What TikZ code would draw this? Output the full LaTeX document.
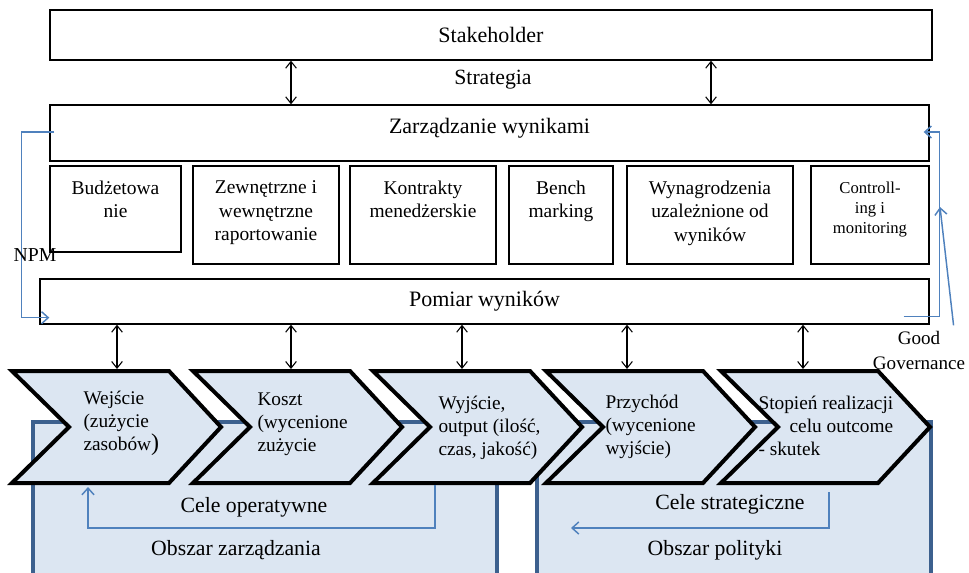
\documentclass[tikz,border=0pt]{standalone}
\usepackage{fontspec}
\setmainfont{Liberation Serif}
\usetikzlibrary{arrows.meta,calc}

\definecolor{govblue}{RGB}{79,129,189}
\definecolor{areablue}{RGB}{60,96,142}
\definecolor{areafill}{RGB}{220,230,242}

\tikzset{every picture/.style={line width=0.75pt}}
\tikzset{
  bigbox/.style={draw, line width=1pt, inner sep=0pt, font=\fontsize{16.5}{19}\selectfont},
  subbox/.style={draw, line width=1pt, inner sep=0pt},
  boxtext/.style={anchor=north, inner sep=0pt, align=center, font=\fontsize{14.6}{17.5}\selectfont},
  chevtext/.style={anchor=north west, inner sep=0pt, align=left, font=\fontsize{14.5}{17.25}\selectfont},
  areatext/.style={inner sep=0pt, font=\fontsize{16.3}{19}\selectfont},
  sidetext/.style={inner sep=0pt, align=center, font=\fontsize{14.8}{18.75}\selectfont},
  chevron/.style={draw=black, line width=3pt, fill=areafill},
  area/.style={draw=areablue, line width=2.5pt, fill=areafill},
  dbl/.style={{Straight Barb[length=5pt,width=8pt]}-{Straight Barb[length=5pt,width=8pt]}, line width=0.8pt},
  govline/.style={draw=govblue, line width=1.1pt, -{Straight Barb[length=5pt,width=9pt]}},
}

\begin{document}
\begin{tikzpicture}[x=0.75pt,y=0.75pt,yscale=-1,xscale=1]
\useasboundingbox (0,0) rectangle (969,572);

%Shape: areas behind the chevrons
\draw[area] (33,580) -- (33,422) -- (497,422) -- (497,580);
\draw[area] (537,580) -- (537,422) -- (931,422) -- (931,580);

%Shape: chevrons
\foreach \x in {12,193,373,546,721}
  \draw[chevron] (\x,371) -- ++(157,0) -- ++(52,56) -- ++(-52,56) -- ++(-157,0) -- ++(57,-56) -- cycle;

% Text Node
\node[bigbox, minimum width=661.5pt, minimum height=37.5pt] (stake) at (491,35) {Stakeholder};
\node[bigbox, minimum width=659.25pt, minimum height=42pt, text height=11pt, text depth=11pt] (zarz) at (489.5,133) {Zarządzanie wynikami};
\node[bigbox, minimum width=666.75pt, minimum height=33.75pt] (pomiar) at (484.5,301.5) {Pomiar wyników};
\node[areatext] (strat) at (493,80) {Strategia};

%Shape: Rectangle (tools)
\node[subbox, minimum width=98.25pt, minimum height=64.5pt] (b1) at (115.5,209) {};
\node[subbox, minimum width=109.5pt, minimum height=73.5pt] (b2) at (266,215) {};
\node[subbox, minimum width=109.5pt, minimum height=73.5pt] (b3) at (423,215) {};
\node[subbox, minimum width=78pt, minimum height=73.5pt] (b4) at (561,215) {};
\node[subbox, minimum width=124.5pt, minimum height=73.5pt] (b5) at (710,215) {};
\node[subbox, minimum width=88.5pt, minimum height=73.5pt] (b6) at (870,215) {};

% Text Node
\node[boxtext] (t1) at ($(b1.north)+(0,15)$) {Budżetowa\\nie};
\node[boxtext] (t2) at ($(b2.north)+(0,15)$) {Zewnętrzne i\\wewnętrzne\\raportowanie};
\node[boxtext] (t3) at ($(b3.north)+(0,15)$) {Kontrakty\\menedżerskie};
\node[boxtext] (t4) at ($(b4.north)+(0,15)$) {Bench\\marking};
\node[boxtext] (t5) at ($(b5.north)+(0,15)$) {Wynagrodzenia\\uzależnione od\\wyników};
\node[boxtext, font=\fontsize{12.5}{15}\selectfont] (t6) at ($(b6.north)+(0,16)$) {Controll-\\ing i\\monitoring};

% Text Node
\node[chevtext] (w1) at (83,391) {Wejście\\(zużycie\\zasobów{\fontsize{18}{18}\selectfont)}};
\node[chevtext] (w2) at (257,392) {Koszt\\(wycenione\\zużycie};
\node[chevtext] (w3) at (438,396) {Wyjście,\\output (ilość,\\czas, jakość)};
\node[chevtext] (w4) at (605,395) {Przychód\\(wycenione\\wyjście)};
\node[chevtext] (w5) at (758,393) {\begin{tabular}{@{}l@{}}Stopień realizacji\\\hfill celu outcome\\- skutek\end{tabular}};

%Straight Lines: double arrows
\draw[dbl] (stake.south -| 291,0) -- (zarz.north -| 291,0);
\draw[dbl] (stake.south -| 711,0) -- (zarz.north -| 711,0);
\foreach \x [count=\i] in {117,291,462,627,803}
  \coordinate (ch\i) at (\x,369);
\foreach \i in {1,...,5}
  \draw[dbl] (pomiar.south -| ch\i) -- (ch\i);

%Lines: NPM
\draw[govline] ($(zarz.west)+(5,-1)$) -| ($(pomiar.south west)+(-18,-7)$) -- ($(pomiar.south west)+(10,-7)$);
\node[sidetext] (npm) at (35,255) {NPM};

%Lines: Good Governance
\draw[govline] ($(pomiar.south east)+(-26,-8)$) -| ($(zarz.east)+(10,-1)$) -- ($(zarz.east)+(-6,-1)$);
\node[sidetext, font=\fontsize{14.3}{18.75}\selectfont] (gg) at (919,350) {Good\\Governance};
\coordinate (ggline) at (940,207);
\draw[govline] ($(gg.north east)+(-12,-5)$) -- (ggline);

%Lines: Cele operatywne
\coordinate (op1) at (435,485);
\coordinate (op2) at (88,487);
\draw[govline] (op1) -- ++(0,43) -| (op2);
\node[areatext] (celeop) at (254,507) {Cele operatywne};
\node[areatext] (obz1) at (236,550) {Obszar zarządzania};

%Lines: Cele strategiczne
\coordinate (st1) at (829,492);
\coordinate (st2) at (571,528);
\draw[govline] (st1) |- (st2);
\node[areatext] (celest) at (730,504) {Cele strategiczne};
\node[areatext] (obz2) at (715,550) {Obszar polityki};

\end{tikzpicture}
\end{document}
